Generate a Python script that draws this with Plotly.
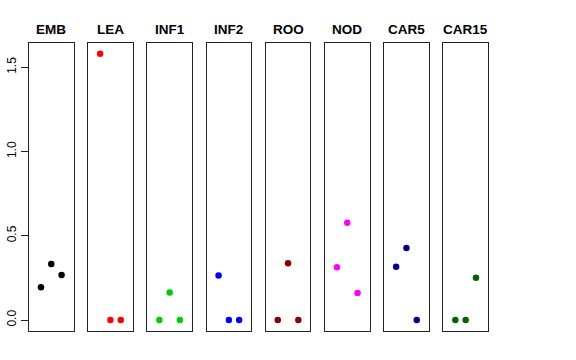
import plotly.graph_objects as go

tissues = ["EMB", "LEA", "INF1", "INF2", "ROO", "NOD", "CAR5", "CAR15"]
colors = ["#000000", "#FF0000", "#00CD00", "#0000FF", "#8B0000", "#FF00FF", "#00008B", "#006400"]
positions = [1, 2, 3]
values = {
    "EMB": [0.194, 0.333, 0.267],
    "LEA": [1.581, 0.0, 0.0],
    "INF1": [0.0, 0.164, 0.0],
    "INF2": [0.265, 0.0, 0.0],
    "ROO": [0.0, 0.337, 0.0],
    "NOD": [0.313, 0.578, 0.160],
    "CAR5": [0.317, 0.428, 0.0],
    "CAR15": [0.0, 0.0, 0.251],
}
ytick_vals = [0.0, 0.5, 1.0, 1.5]
ytick_text = ["0.0", "0.5", "1.0", "1.5"]

W, H = 576, 360
fig = go.Figure()
left0, step, pw = 29.0, 59.2, 44.5
ybot, ytop = (H - 330.7) / H, (H - 43.0) / H
ymax = 1.581
yr = [0 - 0.04 * ymax, ymax * 1.04]

layout = dict(
    width=W, height=H, margin=dict(l=0, r=0, t=0, b=0),
    plot_bgcolor="white", paper_bgcolor="white", showlegend=False,
    font=dict(family="Liberation Sans, Arial, sans-serif", color="black"),
)
annotations = []
for i, t in enumerate(tissues):
    xa = "xaxis" if i == 0 else f"xaxis{i+1}"
    ya = "yaxis" if i == 0 else f"yaxis{i+1}"
    xref = "x" if i == 0 else f"x{i+1}"
    yref = "y" if i == 0 else f"y{i+1}"
    l = (left0 + i * step) / W
    r = (left0 + i * step + pw) / W
    layout[xa] = dict(domain=[l, r], range=[-0.16, 4.16], showticklabels=False, ticks="",
                      showgrid=False, zeroline=False, showline=True, mirror=True,
                      linecolor="#222", linewidth=1, anchor=yref, fixedrange=True,
                      automargin=False)
    ydict = dict(domain=[ybot, ytop], range=yr, showgrid=False, zeroline=False,
                 showline=True, mirror=True, linecolor="#222", linewidth=1, anchor=xref,
                 automargin=False, fixedrange=True)
    if i == 0:
        ydict.update(tickvals=ytick_vals, ticktext=ytick_text, ticks="outside", ticklen=7,
                     tickcolor="#222", tickangle=-90, tickfont=dict(size=12, color="black"))
    else:
        ydict.update(showticklabels=False, ticks="")
    layout[ya] = ydict
    fig.add_trace(go.Scatter(x=positions, y=values[t], mode="markers", xaxis=xref, yaxis=yref,
                             marker=dict(color=colors[i], size=6.5, line=dict(width=0))))
    annotations.append(dict(text=f"<b>{t}</b>", x=(l + r) / 2, y=(H - 29) / H, xref="paper",
                            yref="paper", showarrow=False, font=dict(size=13.5, color="black"),
                            xanchor="center", yanchor="middle"))
layout["annotations"] = annotations
fig.update_layout(**layout)
fig.write_html("out.html", config={"displayModeBar": False},
               post_script="document.body.style.margin='0px';")
